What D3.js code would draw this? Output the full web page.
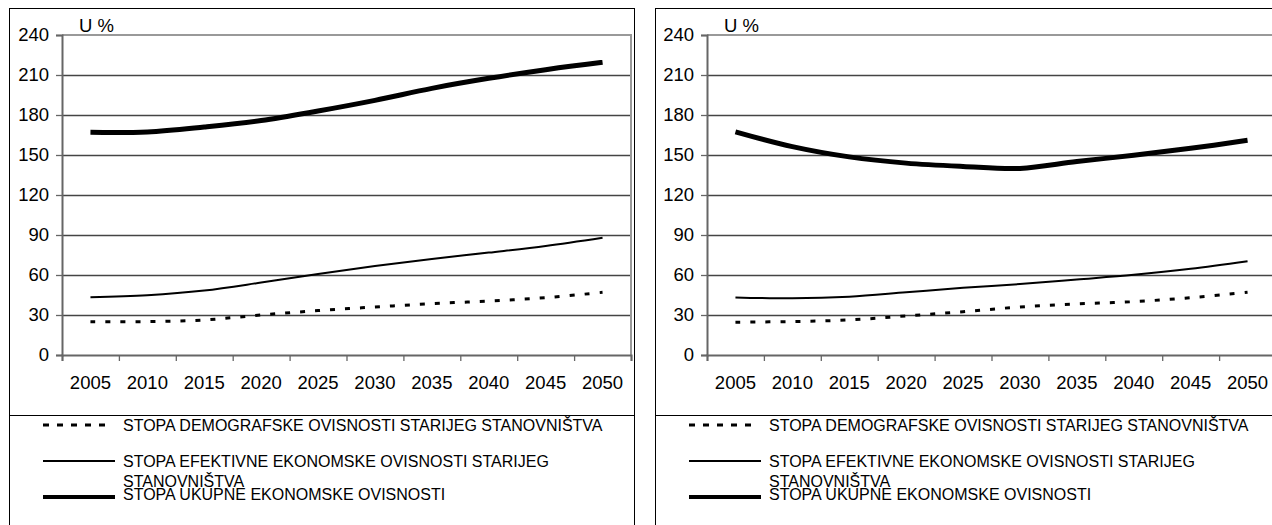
<!DOCTYPE html>
<html>
<head>
<meta charset="utf-8">
<script src="https://cdn.jsdelivr.net/npm/d3@7/dist/d3.min.js"></script>
<style>
  html, body { margin: 0; padding: 0; background: #fff; }
  svg { display: block; font-family: "Liberation Sans", Arial, sans-serif; }
</style>
</head>
<body>
<svg id="chart" width="1272" height="525"></svg>
<script>
// ---- data ----
const years = ["2005","2010","2015","2020","2025","2030","2035","2040","2045","2050"];
const yTicks = [0, 30, 60, 90, 120, 150, 180, 210, 240];
const yUnit = "U %";

// left panel
const leftDemographic = [25, 25, 26.3, 30, 33.3, 36, 38.5, 40.5, 43, 47];
const leftEffective   = [43.3, 44.8, 48.3, 54.3, 60.8, 66.8, 72, 76.8, 81.8, 88];
const leftTotal       = [167, 167.3, 171, 175.8, 183, 191, 200, 207.5, 214, 219.5];

// right panel
const rightDemographic = [24.6, 25.1, 26.3, 29.3, 32.5, 36, 38.3, 40, 43, 47];
const rightEffective   = [43.2, 42.5, 43.7, 47, 50.4, 53.2, 56.6, 60.1, 64.6, 70.3];
const rightTotal       = [167.4, 156.3, 148.6, 143.9, 141.4, 139.9, 145.1, 149.8, 155, 161];

const seriesNames = [
  ["STOPA DEMOGRAFSKE OVISNOSTI STARIJEG STANOVNIŠTVA"],
  ["STOPA EFEKTIVNE EKONOMSKE OVISNOSTI STARIJEG", "STANOVNIŠTVA"],
  ["STOPA UKUPNE EKONOMSKE OVISNOSTI"]
];

// ---- styles ----
const seriesStyle = [
  { width: 3,   dash: "5,10" },
  { width: 2,   dash: null },
  { width: 5,   dash: null }
];

const svg = d3.select("#chart");

const panels = [
  { boxLeft: 9,   boxRight: 634, axisX: 62,  data: [leftDemographic, leftEffective, leftTotal] },
  { boxLeft: 655, boxRight: 1290, axisX: 707, data: [rightDemographic, rightEffective, rightTotal] }
];

const plotTop = 35, plotBottom = 355, plotW = 569;
const legendTop = 415;

panels.forEach(p => {
  const g = svg.append("g");
  const x = d3.scaleBand().domain(years).range([p.axisX, p.axisX + plotW]).padding(0);
  const xEdge = d3.scaleLinear().domain([0, years.length]).range([p.axisX, p.axisX + plotW]);
  const y = d3.scaleLinear().domain([0, 240]).range([plotBottom, plotTop]);

  // outer box
  g.append("rect")
    .attr("x", p.boxLeft + 0.5).attr("y", 8.5)
    .attr("width", p.boxRight - p.boxLeft).attr("height", 530)
    .attr("fill", "none").attr("stroke", "#000").attr("stroke-width", 1);
  // legend separator
  g.append("line")
    .attr("x1", p.boxLeft).attr("x2", p.boxRight + 1)
    .attr("y1", legendTop + 0.5).attr("y2", legendTop + 0.5)
    .attr("stroke", "#000").attr("stroke-width", 1);

  // gridlines
  g.append("g").selectAll("line").data(yTicks.filter(t => t > 0 && t < 240)).join("line")
    .attr("x1", p.axisX).attr("x2", p.axisX + plotW)
    .attr("y1", d => Math.round(y(d)) + 0.5).attr("y2", d => Math.round(y(d)) + 0.5)
    .attr("stroke", "#444").attr("stroke-width", 1.3);

  // plot border (top & right)
  g.append("path")
    .attr("d", `M${p.axisX},${plotTop} H${p.axisX + plotW} V${plotBottom}`)
    .attr("fill", "none").attr("stroke", "#999").attr("stroke-width", 2);

  // y axis
  const yAxis = d3.axisLeft(y).tickValues(yTicks).tickSize(6).tickPadding(7).tickFormat(d3.format("d"));
  const ya = g.append("g").attr("transform", `translate(${p.axisX},0)`).call(yAxis);
  ya.select(".domain").attr("stroke", "#666").attr("stroke-width", 2);
  ya.selectAll(".tick line").attr("stroke", "#666").attr("stroke-width", 1.3);
  ya.selectAll("text").attr("font-size", "18.5px").attr("fill", "#000")
    .attr("font-family", "Liberation Sans, Arial, sans-serif");

  // x axis: ticks at category boundaries
  const xAxis = d3.axisBottom(xEdge).tickValues(d3.range(years.length + 1)).tickSize(6).tickFormat("");
  const xa = g.append("g").attr("transform", `translate(0,${plotBottom})`).call(xAxis);
  xa.select(".domain").attr("stroke", "#666").attr("stroke-width", 2);
  xa.selectAll(".tick line").attr("stroke", "#666").attr("stroke-width", 1.3);

  // x labels at category centres
  g.append("g").selectAll("text").data(years).join("text")
    .attr("x", d => x(d) + x.bandwidth() / 2)
    .attr("y", 389)
    .attr("text-anchor", "middle")
    .attr("font-size", "18.5px")
    .text(d => d);

  // unit label
  g.append("text").attr("x", p.axisX + 17).attr("y", 32)
    .attr("font-size", "18.5px").text(yUnit);

  // series lines
  const line = d3.line()
    .x((d, i) => x(years[i]) + x.bandwidth() / 2)
    .y(d => y(d))
    .curve(d3.curveCatmullRom.alpha(0.5));
  p.data.forEach((vals, si) => {
    const st = seriesStyle[si];
    g.append("path").datum(vals)
      .attr("d", line)
      .attr("fill", "none").attr("stroke", "#000")
      .attr("stroke-width", st.width)
      .attr("stroke-dasharray", st.dash)
      .attr("stroke-linejoin", "round");
  });

  // legend
  const lg = g.append("g");
  const symX1 = p.boxLeft + 34, symX2s = [p.boxLeft + 101, p.boxLeft + 106, p.boxLeft + 106];
  const symY = [425, 461, 497];
  const textX = p.boxLeft + 114;
  const baselines = [[431], [467, 487], [500]];
  seriesNames.forEach((lines, si) => {
    const st = seriesStyle[si];
    lg.append("line")
      .attr("x1", symX1).attr("x2", symX2s[si])
      .attr("y1", symY[si]).attr("y2", symY[si])
      .attr("stroke", "#000").attr("stroke-width", si === 2 ? 4 : st.width)
      .attr("stroke-dasharray", si === 0 ? "6,8" : st.dash);
    lines.forEach((t, li) => {
      lg.append("text").attr("x", textX).attr("y", baselines[si][li])
        .attr("font-size", "16px").text(t);
    });
  });
});
</script>
</body>
</html>
